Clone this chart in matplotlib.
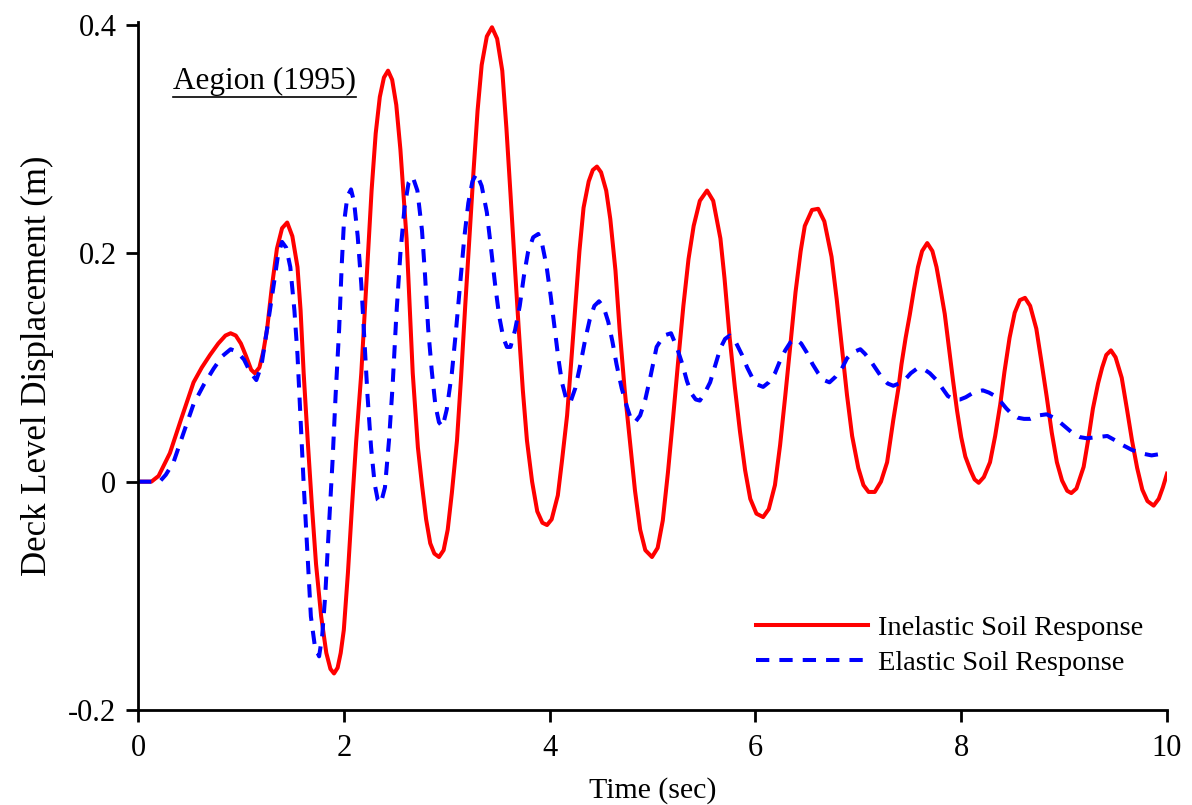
import matplotlib
matplotlib.use("Agg")
import matplotlib.pyplot as plt
from matplotlib.lines import Line2D

plt.rcParams['font.family'] = ['Liberation Serif', 'DejaVu Serif']

# Inelastic soil response
t_inel = [0.00, 0.13, 0.20, 0.31, 0.42, 0.54, 0.62, 0.70, 0.78, 0.85, 0.90, 0.95, 1.00, 1.05, 1.10,
          1.135, 1.18, 1.22, 1.255, 1.30, 1.35, 1.40, 1.45, 1.50, 1.55, 1.58, 1.61, 1.65, 1.69, 1.73,
          1.78, 1.83, 1.87, 1.905, 1.94, 1.97, 2.00, 2.04, 2.08, 2.12, 2.17, 2.23, 2.27, 2.31, 2.35,
          2.39, 2.43, 2.47, 2.51, 2.55, 2.61, 2.67, 2.72, 2.76, 2.80, 2.84, 2.88, 2.925, 2.97, 3.01,
          3.05, 3.10, 3.14, 3.18, 3.22, 3.26, 3.30, 3.34, 3.39, 3.44, 3.49, 3.54, 3.58, 3.62, 3.66,
          3.70, 3.74, 3.78, 3.83, 3.88, 3.93, 3.975, 4.02, 4.08, 4.12, 4.17, 4.21, 4.25, 4.29, 4.33,
          4.38, 4.42, 4.46, 4.50, 4.55, 4.59, 4.64, 4.68, 4.73, 4.78, 4.83, 4.88, 4.93, 4.995, 5.05,
          5.10, 5.15, 5.20, 5.25, 5.30, 5.35, 5.40, 5.46, 5.53, 5.59, 5.66, 5.70, 5.75, 5.80, 5.85,
          5.90, 5.95, 6.01, 6.075, 6.13, 6.19, 6.24, 6.29, 6.34, 6.39, 6.44, 6.48, 6.55, 6.61, 6.67,
          6.74, 6.79, 6.84, 6.89, 6.94, 7.00, 7.05, 7.10, 7.16, 7.22, 7.28, 7.34, 7.39, 7.42, 7.46,
          7.50, 7.54, 7.58, 7.62, 7.67, 7.72, 7.76, 7.80, 7.84, 7.88, 7.92, 7.96, 8.00, 8.04, 8.09,
          8.13, 8.17, 8.22, 8.28, 8.33, 8.38, 8.42, 8.47, 8.52, 8.57, 8.62, 8.67, 8.73, 8.78, 8.83,
          8.88, 8.93, 8.98, 9.03, 9.07, 9.12, 9.19, 9.24, 9.28, 9.33, 9.37, 9.41, 9.455, 9.50, 9.56,
          9.61, 9.66, 9.71, 9.76, 9.81, 9.87, 9.92, 9.96, 10.00]
d_inel = [0.000, 0.000, 0.005, 0.025, 0.055, 0.087, 0.100, 0.111, 0.121, 0.128, 0.130, 0.128, 0.121, 0.110, 0.098,
          0.095, 0.100, 0.115, 0.134, 0.170, 0.204, 0.222, 0.227, 0.215, 0.188, 0.150, 0.095, 0.035, -0.021, -0.072,
          -0.118, -0.150, -0.164, -0.168, -0.163, -0.150, -0.130, -0.080, -0.021, 0.035, 0.095, 0.192, 0.255, 0.305, 0.337,
          0.354, 0.360, 0.352, 0.330, 0.291, 0.213, 0.095, 0.030, -0.003, -0.033, -0.054, -0.063, -0.066, -0.060, -0.042,
          -0.010, 0.036, 0.092, 0.154, 0.213, 0.271, 0.325, 0.365, 0.390, 0.398, 0.388, 0.360, 0.310, 0.252, 0.192,
          0.134, 0.080, 0.036, 0.000, -0.026, -0.036, -0.038, -0.033, -0.012, 0.018, 0.058, 0.105, 0.154, 0.202, 0.240,
          0.263, 0.273, 0.276, 0.271, 0.255, 0.230, 0.185, 0.134, 0.080, 0.036, -0.008, -0.042, -0.060, -0.066, -0.058,
          -0.034, 0.008, 0.056, 0.106, 0.154, 0.195, 0.224, 0.246, 0.255, 0.246, 0.213, 0.178, 0.126, 0.083, 0.044,
          0.010, -0.015, -0.028, -0.031, -0.024, -0.003, 0.032, 0.075, 0.120, 0.166, 0.202, 0.224, 0.238, 0.239, 0.228,
          0.197, 0.160, 0.118, 0.076, 0.040, 0.012, -0.003, -0.009, -0.009, 0.000, 0.017, 0.054, 0.082, 0.103, 0.126,
          0.146, 0.168, 0.188, 0.202, 0.209, 0.202, 0.188, 0.168, 0.147, 0.118, 0.089, 0.062, 0.039, 0.022, 0.010,
          0.002, -0.001, 0.004, 0.017, 0.040, 0.068, 0.096, 0.126, 0.148, 0.159, 0.161, 0.154, 0.134, 0.105, 0.075,
          0.043, 0.017, 0.001, -0.008, -0.010, -0.006, 0.013, 0.040, 0.064, 0.086, 0.100, 0.111, 0.115, 0.109, 0.091,
          0.064, 0.036, 0.012, -0.007, -0.017, -0.021, -0.015, -0.005, 0.007]

# Elastic soil response
t_el = [0.00, 0.21, 0.27, 0.345, 0.44, 0.54, 0.64, 0.735, 0.82, 0.90, 0.96, 1.03, 1.09, 1.15, 1.20,
        1.255, 1.32, 1.36, 1.40, 1.44, 1.48, 1.52, 1.55, 1.58, 1.61, 1.645, 1.68, 1.72, 1.76, 1.79,
        1.82, 1.855, 1.89, 1.92, 1.955, 1.98, 2.00, 2.035, 2.07, 2.10, 2.135, 2.17, 2.20, 2.23, 2.265,
        2.30, 2.33, 2.36, 2.40, 2.44, 2.475, 2.51, 2.55, 2.59, 2.63, 2.67, 2.715, 2.76, 2.79, 2.82,
        2.855, 2.89, 2.925, 2.96, 3.00, 3.05, 3.09, 3.13, 3.17, 3.21, 3.25, 3.29, 3.34, 3.39, 3.43,
        3.47, 3.51, 3.55, 3.585, 3.62, 3.665, 3.71, 3.75, 3.79, 3.84, 3.89, 3.93, 3.97, 4.01, 4.05,
        4.085, 4.12, 4.16, 4.20, 4.25, 4.30, 4.345, 4.39, 4.435, 4.48, 4.525, 4.57, 4.61, 4.65, 4.70,
        4.75, 4.79, 4.83, 4.88, 4.93, 4.98, 5.04, 5.11, 5.18, 5.235, 5.29, 5.335, 5.38, 5.42, 5.46,
        5.51, 5.56, 5.61, 5.66, 5.705, 5.75, 5.81, 5.87, 5.92, 5.97, 6.02, 6.075, 6.13, 6.19, 6.24,
        6.29, 6.34, 6.39, 6.445, 6.50, 6.555, 6.61, 6.665, 6.72, 6.78, 6.84, 6.89, 6.94, 7.02, 7.065,
        7.11, 7.17, 7.23, 7.285, 7.34, 7.395, 7.45, 7.51, 7.57, 7.63, 7.695, 7.76, 7.815, 7.87, 7.93,
        7.99, 8.045, 8.10, 8.155, 8.21, 8.27, 8.33, 8.385, 8.44, 8.495, 8.55, 8.61, 8.67, 8.75, 8.83,
        8.90, 8.96, 9.025, 9.09, 9.155, 9.22, 9.32, 9.42, 9.50, 9.57, 9.655, 9.74, 9.85, 9.92, 10.00]
d_el = [0.000, 0.000, 0.006, 0.017, 0.042, 0.068, 0.085, 0.099, 0.110, 0.116, 0.114, 0.107, 0.096, 0.089, 0.102,
        0.134, 0.173, 0.198, 0.210, 0.205, 0.188, 0.150, 0.111, 0.055, -0.002, -0.060, -0.118, -0.145, -0.153, -0.135,
        -0.099, -0.040, 0.017, 0.075, 0.134, 0.190, 0.225, 0.250, 0.256, 0.245, 0.215, 0.173, 0.125, 0.076, 0.030,
        -0.002, -0.016, -0.019, -0.005, 0.037, 0.085, 0.145, 0.200, 0.240, 0.262, 0.267, 0.255, 0.220, 0.180, 0.134,
        0.097, 0.067, 0.052, 0.048, 0.063, 0.095, 0.132, 0.173, 0.213, 0.244, 0.263, 0.270, 0.259, 0.236, 0.205,
        0.173, 0.145, 0.126, 0.118, 0.118, 0.133, 0.154, 0.180, 0.201, 0.214, 0.217, 0.207, 0.189, 0.163, 0.134,
        0.108, 0.087, 0.073, 0.069, 0.082, 0.103, 0.124, 0.142, 0.154, 0.158, 0.153, 0.140, 0.123, 0.103, 0.082,
        0.066, 0.055, 0.052, 0.058, 0.072, 0.092, 0.118, 0.128, 0.130, 0.118, 0.103, 0.088, 0.077, 0.072, 0.071,
        0.078, 0.087, 0.102, 0.117, 0.125, 0.128, 0.122, 0.111, 0.100, 0.091, 0.085, 0.083, 0.087, 0.095, 0.106,
        0.115, 0.122, 0.125, 0.121, 0.113, 0.103, 0.095, 0.089, 0.087, 0.092, 0.099, 0.108, 0.113, 0.116, 0.112,
        0.107, 0.099, 0.091, 0.086, 0.084, 0.086, 0.089, 0.095, 0.099, 0.099, 0.095, 0.089, 0.082, 0.075, 0.072,
        0.072, 0.074, 0.077, 0.079, 0.080, 0.078, 0.075, 0.070, 0.064, 0.059, 0.056, 0.055, 0.055, 0.058, 0.059,
        0.056, 0.052, 0.047, 0.042, 0.039, 0.038, 0.039, 0.040, 0.036, 0.032, 0.028, 0.025, 0.023, 0.024, 0.025]

x_ticks = [0, 2, 4, 6, 8, 10]
y_ticks = [-0.2, 0, 0.2, 0.4]
y_tick_labels = ['-0.2', '0', '0.2', '0.4']

fig = plt.figure(figsize=(11.92, 8.05), dpi=100)
ax = fig.add_axes([138/1192, 1 - 710/805, 1029/1192, 688/805])

ax.plot(t_inel, d_inel, color='#ff0000', lw=2.9, solid_joinstyle='round',
        label='Inelastic Soil Response')
ax.plot(t_el, d_el, color='#0000ff', lw=2.9, dashes=(3.3, 2.5), dash_joinstyle='round',
        label='Elastic Soil Response')

ax.set_xlim(0, 10)
ax.set_ylim(-0.2, 0.4 + 0.6 * 3 / 685)
ax.set_xticks(x_ticks)
ax.set_xticklabels([str(v) for v in x_ticks])
ax.set_yticks(y_ticks)
ax.set_yticklabels(y_tick_labels)

for s in ['top', 'right']:
    ax.spines[s].set_visible(False)
for s in ['left', 'bottom']:
    ax.spines[s].set_linewidth(2.0)
ax.tick_params(direction='out', length=8.5, width=2.0, labelsize=22)
ax.tick_params(axis='x', pad=9)
ax.tick_params(axis='y', pad=7)

ax.set_xlabel('Time (sec)', fontsize=21.5, labelpad=10)
ax.set_ylabel('Deck Level Displacement (m)', fontsize=25, labelpad=10)

ax.legend(loc='lower right', bbox_to_anchor=(0.977, 0.05), frameon=False, fontsize=20.5,
          handlelength=3.95, handletextpad=0.35, labelspacing=0.32, borderpad=0, borderaxespad=0)

title = ax.text(0.034, 0.9027, 'Aegion (1995)', transform=ax.transAxes, fontsize=22.5,
                ha='left', va='baseline')

fig.canvas.draw()
bb = title.get_window_extent().transformed(fig.transFigure.inverted())
uy = 1 - 97 / 805
fig.add_artist(Line2D([bb.x0, bb.x1], [uy, uy], transform=fig.transFigure, color='black', lw=1.2))

fig.savefig('out.png', dpi=100)
